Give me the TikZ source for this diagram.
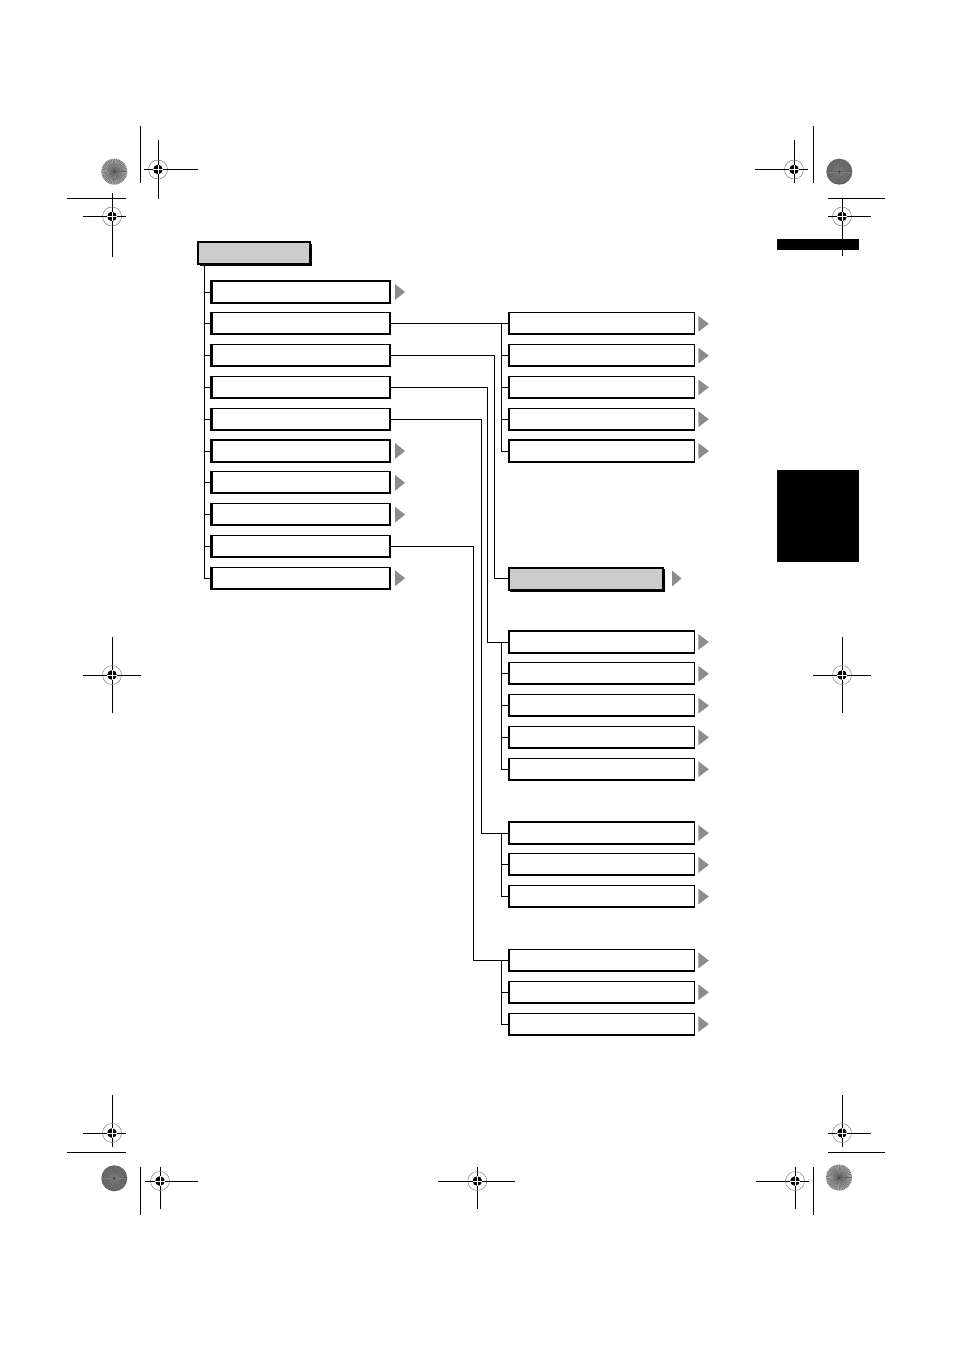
\documentclass[tikz,border=0pt]{standalone}
\usetikzlibrary{calc}
\definecolor{arrowgray}{RGB}{140,140,140}
\definecolor{boxgray}{RGB}{204,204,204}
\newcommand\menutri[3]{\fill[arrowgray] ([xshift=#2pt,yshift=8pt]#1.east) -- ([xshift=#2pt,yshift=-8pt]#1.east) -- ([xshift=#3pt]#1.east) -- cycle;}
\newcommand\regcross[6]{%
  \draw[line width=0.9pt] (#3,#2) -- (#4,#2);
  \draw[line width=0.9pt] (#1,#5) -- (#1,#6);
  \draw[gray, line width=0.5pt] (#1,#2) circle (9.5pt);
  \fill (#1,#2) circle (4.8pt);
  \draw[white, line width=0.45pt] (#1-4.8,#2) -- (#1+4.8,#2) (#1,#2-4.8) -- (#1,#2+4.8);
  \draw[line width=0.9pt] (#1-5,#2) -- (#1-14,#2) (#1+5,#2) -- (#1+14,#2);}
\newcommand\lightdisc[2]{%
  \fill[black!32] (#1,#2) circle (13pt);
  \foreach \a in {0,8,...,352} \draw[black!60, line width=0.5pt] (#1,#2) -- ++(\a:13pt);
  \fill[black!70] (#1,#2) circle (1.5pt);}
\newcommand\darkdisc[2]{%
  \fill[black!62] (#1,#2) circle (13pt);
  \foreach \a in {0,12,...,348} \draw[black!50, line width=0.4pt] (#1,#2) -- ++(\a:12pt);
  \fill[black!75] (#1,#2) circle (1.5pt);}
\begin{document}
\begin{tikzpicture}[x=1pt,y=-1pt,line join=miter,
  conn/.style={line width=1pt},
  menubox/.style={draw, line width=1.2pt, fill=white, minimum width=179pt, minimum height=22pt, inner sep=0pt, outer sep=0pt},
  subbox/.style={menubox, minimum width=186pt},
  headbox/.style={draw, line width=2pt, fill=boxgray, minimum height=22pt, inner sep=0pt, outer sep=0pt}]
\fill[white] (0,0) rectangle (954,1350);
\useasboundingbox (0,0) rectangle (954,1350);

% registration marks
\lightdisc{114.3}{171.7}
\darkdisc{839.3}{171.7}
\darkdisc{114.3}{1178.3}
\lightdisc{839}{1177.5}
\draw[line width=0.9pt] (140.3,126) -- (140.3,183);
\draw[line width=0.9pt] (67,198.3) -- (126,198.3);
\draw[line width=0.9pt] (813.3,126) -- (813.3,183);
\draw[line width=0.9pt] (828,198.3) -- (885,198.3);
\draw[line width=0.9pt] (67,1152.2) -- (126,1152.2);
\draw[line width=0.9pt] (140.3,1167) -- (140.3,1215);
\draw[line width=0.9pt] (828,1152.2) -- (885,1152.2);
\draw[line width=0.9pt] (813.3,1167) -- (813.3,1215);
\regcross{158}{169.5}{145}{198}{140}{199}
\regcross{112}{216.5}{83}{126}{193}{257}
\regcross{794}{169.5}{755}{808}{140}{183}
\regcross{842}{216.5}{833}{871}{198}{256}
\regcross{112}{675}{83}{141}{637}{713}
\regcross{842}{675}{813}{871}{637}{713}
\regcross{112}{1133}{83}{126}{1095}{1147}
\regcross{160}{1181}{145}{198}{1167}{1209}
\regcross{477.3}{1181}{438}{515}{1167}{1209}
\regcross{842}{1133}{828}{871}{1095}{1147}
\regcross{795}{1181}{756}{808}{1167}{1209}

% black tabs
\fill (776.5,238.5) rectangle (859,250);
\fill (776.5,470) rectangle (859,561.7);

% root
\node[headbox, minimum width=112pt] (root) at (254,253) {};
\draw[line width=1.6pt] ([xshift=1.6pt,yshift=-1.5pt]root.north east) -- ([xshift=1.6pt,yshift=-1.6pt]root.south east) -- ([xshift=1.5pt,yshift=-1.6pt]root.south west);

% left column
\foreach \i/\y in {1/292,2/323.8,3/355.6,4/387.4,5/419.2,6/451,7/482.8,8/514.6,9/546.4,10/578.2}
  \node[menubox] (b\i) at (300.5,\y) {};
% right groups
\foreach \i/\y in {1/323.8,2/355.6,3/387.4,4/419.2,5/451}
  \node[subbox] (r\i) at (601.3,\y) {};
\node[headbox, minimum width=154pt] (sel) at (585.5,578.5) {};
\draw[line width=1.8pt] ([xshift=1.7pt,yshift=-1.5pt]sel.north east) -- ([xshift=1.7pt,yshift=-1.7pt]sel.south east) -- ([xshift=1.5pt,yshift=-1.7pt]sel.south west);
\foreach \i/\y in {1/642,2/673.8,3/705.6,4/737.4,5/769.2}
  \node[subbox] (s\i) at (601.3,\y) {};
\foreach \i/\y in {1/833,2/864.8,3/896.6}
  \node[subbox] (t\i) at (601.3,\y) {};
\foreach \i/\y in {1/960.5,2/992.3,3/1024.1}
  \node[subbox] (u\i) at (601.3,\y) {};

% thick left and bottom edges
\foreach \n in {b1,b2,b3,b4,b5,b6,b7,b8,b9,b10,r1,r2,r3,r4,r5,s1,s2,s3,s4,s5,t1,t2,t3,u1,u2,u3}{
  \draw[line width=2.6pt] ([xshift=0.8pt,yshift=0.6pt]\n.north west) -- ([xshift=0.8pt]\n.south west);
  \draw[line width=2pt] ([yshift=0.4pt]\n.south west) -- ([yshift=0.4pt]\n.south east);
}

% arrows
\foreach \n in {b1,b6,b7,b8,b10}{\menutri{\n}{5}{15}}
\foreach \n in {r1,r2,r3,r4,r5,s1,s2,s3,s4,s5,t1,t2,t3,u1,u2,u3}{\menutri{\n}{4}{14.5}}
\menutri{sel}{9.5}{19}

% trunk
\draw[conn] ([xshift=6.5pt]root.south west) |- (b10.west);
\foreach \i in {1,...,9} \draw[conn] (b\i.west) -- ++(-6.8,0);

% group 1
\draw[conn] (b2.east) -- (r1.west);
\draw[conn] ([xshift=-6.8pt]r1.west) |- (r5.west);
\foreach \i in {2,3,4} \draw[conn] (r\i.west) -- ++(-6.8,0);
% selected box
\draw[conn] (b3.east) -- ++(104,0) |- (sel.west);
% group 2
\draw[conn] (b4.east) -- ++(97,0) |- (s1.west);
\draw[conn] ([xshift=-6.8pt]s1.west) |- (s5.west);
\foreach \i in {2,3,4} \draw[conn] (s\i.west) -- ++(-6.8,0);
% group 3
\draw[conn] (b5.east) -- ++(91,0) |- (t1.west);
\draw[conn] ([xshift=-6.8pt]t1.west) |- (t3.west);
\draw[conn] (t2.west) -- ++(-6.8,0);
% group 4
\draw[conn] (b9.east) -- ++(83,0) |- (u1.west);
\draw[conn] ([xshift=-6.8pt]u1.west) |- (u3.west);
\draw[conn] (u2.west) -- ++(-6.8,0);
\end{tikzpicture}
\end{document}
